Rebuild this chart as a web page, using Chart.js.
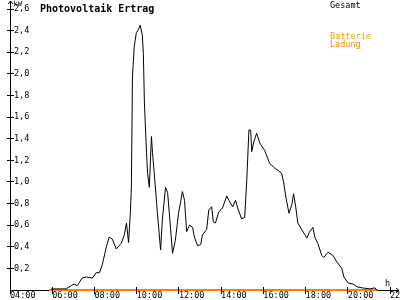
<!DOCTYPE html>
<html><head><meta charset="utf-8">
<script src="https://cdn.jsdelivr.net/npm/chart.js@4.4.1/dist/chart.umd.min.js"></script>
<style>html,body{margin:0;padding:0;background:#fff;}canvas{display:block;}</style>
</head><body>
<canvas id="c" width="400" height="300"></canvas>
<script>
const chartTitle = "Photovoltaik Ertrag";
const unitY = "kW";
const unitX = "h";
const legendGesamt = "Gesamt";
const legendBatterie = ["Batterie", "Ladung"];

const xMin = 4, xMax = 22, xStep = 2;
const yMin = 0, yMax = 2.6, yStep = 0.2;

const gesamtTimes = ["05:57","06:40","06:54","07:02","07:11","07:25","07:37","07:54","08:05","08:14","08:22","08:34","08:42","08:51","09:02","09:16","09:25","09:31","09:37","09:42","09:45","09:48","09:53","09:59","10:05","10:10","10:16","10:19","10:22","10:28","10:31","10:36","10:42","10:45","10:50","10:59","11:08","11:13","11:22","11:28","11:36","11:42","11:50","11:59","12:10","12:16","12:22","12:30","12:39","12:44","12:53","13:02","13:07","13:19","13:25","13:33","13:38","13:44","13:53","14:04","14:16","14:22","14:33","14:41","14:47","14:58","15:07","15:13","15:19","15:24","15:27","15:32","15:41","15:50","16:04","16:18","16:32","16:52","16:58","17:04","17:13","17:21","17:26","17:32","17:38","17:49","18:04","18:10","18:21","18:26","18:35","18:46","18:52","19:04","19:18","19:29","19:43","19:49","20:01","20:15","20:26","20:40","21:03","21:17","21:23"];
const gesamtValues = [0.01,0.01,0.04,0.055,0.04,0.11,0.12,0.11,0.16,0.16,0.23,0.40,0.49,0.47,0.38,0.43,0.51,0.62,0.44,0.71,0.95,1.97,2.25,2.38,2.41,2.45,2.36,2.19,1.73,1.27,1.08,0.95,1.42,1.27,1.08,0.71,0.37,0.65,0.95,0.90,0.58,0.34,0.46,0.71,0.91,0.83,0.54,0.60,0.58,0.49,0.41,0.42,0.51,0.56,0.74,0.77,0.63,0.62,0.72,0.76,0.87,0.83,0.77,0.83,0.76,0.66,0.67,1.02,1.48,1.48,1.28,1.36,1.45,1.36,1.29,1.17,1.13,1.08,0.99,0.86,0.71,0.79,0.89,0.77,0.62,0.56,0.48,0.53,0.58,0.49,0.43,0.32,0.30,0.35,0.32,0.26,0.20,0.12,0.065,0.055,0.03,0.02,0.01,0.02,0.00];

const batterieTimes = ["05:51","21:23"];
const batterieValues = [0, 0];

function toHours(t){ const p = t.split(":").map(Number); return p[0] + p[1]/60; }
function pts(times, vals){ return times.map((t,i)=>({x:toHours(t), y:vals[i]})); }

const MONO = "'DejaVu Sans Mono', 'Liberation Mono', monospace";

const decor = {
  id: 'decor',
  afterDraw(chart){
    const {ctx, scales} = chart;
    const xs = scales.x, ys = scales.y;
    const ax = Math.round(ys.right - 0.5) + 0.5;
    const ay = Math.round(xs.top - 0.5) + 0.5;
    ctx.save();
    ctx.strokeStyle = '#000';
    ctx.lineWidth = 1;
    ctx.beginPath();
    ys.ticks.forEach(t => {
      if (t.value === 0) return;
      const py = Math.round(ys.getPixelForValue(t.value) - 0.5) + 0.5;
      ctx.moveTo(ax - 3.5, py); ctx.lineTo(ax + 3.5, py);
    });
    xs.ticks.forEach(t => {
      const px = Math.round(xs.getPixelForValue(t.value) - 0.5) + 0.5;
      ctx.moveTo(px, ay - 3.5); ctx.lineTo(px, ay + 3.5);
    });
    ctx.moveTo(ax, chart.chartArea.top); ctx.lineTo(ax, 1);
    ctx.moveTo(ax - 2.5, 4); ctx.lineTo(ax, 1); ctx.lineTo(ax + 2.5, 4);
    ctx.moveTo(chart.chartArea.right, ay); ctx.lineTo(399, ay);
    ctx.moveTo(396, ay - 2.5); ctx.lineTo(399, ay); ctx.lineTo(396, ay + 2.5);
    ctx.stroke();

    ctx.fillStyle = '#000';
    ctx.textBaseline = 'alphabetic';
    ctx.textAlign = 'left';
    ctx.font = "bold 10px " + MONO;
    ctx.fillText(chartTitle, 40, 12);
    ctx.font = "7px " + MONO;
    ctx.fillText(unitY, ax + 3, 6);
    ctx.font = "8.5px " + MONO;
    ctx.fillText(unitX, 385, 286);
    ctx.fillText(legendGesamt, 330, 8);
    ctx.fillStyle = '#ffa000';
    ctx.fillText(legendBatterie[0], 330, 39);
    ctx.fillStyle = '#ff8800';
    ctx.fillText(legendBatterie[1], 330, 47);
    ctx.restore();
  }
};

new Chart(document.getElementById('c'), {
  type: 'line',
  data: {
    datasets: [
      { label: legendGesamt, data: pts(gesamtTimes, gesamtValues), borderColor: '#000', borderWidth: 1, pointRadius: 0, tension: 0, fill: false, clip: false },
      { label: legendBatterie.join(' '), data: pts(batterieTimes, batterieValues), borderColor: '#ff8000', borderWidth: 2, pointRadius: 0, tension: 0, fill: false, clip: false }
    ]
  },
  options: {
    responsive: false,
    devicePixelRatio: 1,
    animation: false,
    layout: { padding: { left: 10, top: 9, right: 10, bottom: 0 } },
    plugins: { legend: { display: false }, title: { display: false }, tooltip: { enabled: false } },
    scales: {
      x: {
        type: 'linear', min: xMin, max: xMax,
        grid: { drawOnChartArea: false, drawTicks: false },
        border: { display: true, color: '#000', width: 1 },
        ticks: {
          stepSize: xStep, autoSkip: false, maxRotation: 0, align: 'start', padding: 1,
          color: '#000', font: { family: MONO, size: 8.5 },
          callback: v => String(v).padStart(2, '0') + ':00'
        },
        afterFit: s => { s.height = 10; s.paddingLeft = 0; s.paddingRight = 0; s.paddingTop = 0; s.paddingBottom = 0; }
      },
      y: {
        type: 'linear', min: yMin, max: yMax,
        grid: { drawOnChartArea: false, drawTicks: false },
        border: { display: true, color: '#000', width: 1 },
        ticks: {
          stepSize: yStep, mirror: true, padding: 4,
          color: '#000', font: { family: MONO, size: 8.5 },
          callback: v => (Math.abs(v) < 1e-9 ? '' : v.toFixed(1).replace('.', ','))
        },
        afterFit: s => { s.width = 0; s.paddingLeft = 0; s.paddingRight = 0; s.paddingTop = 0; s.paddingBottom = 0; }
      }
    }
  },
  plugins: [decor]
});
</script>
</body></html>
